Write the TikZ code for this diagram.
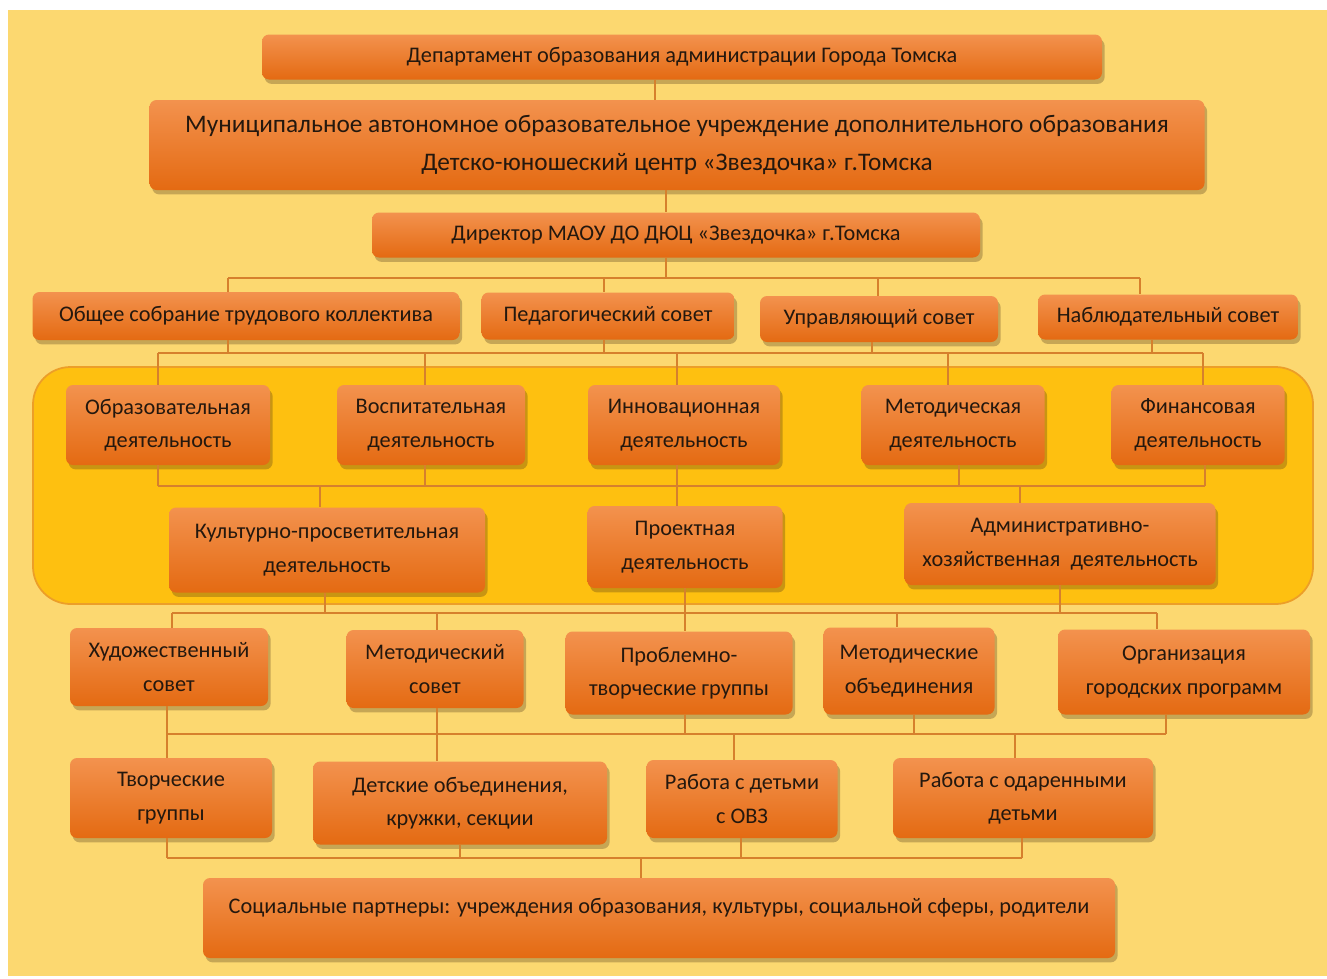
\documentclass[tikz,border=0pt]{standalone}
\usepackage{fontspec}
\setmainfont{Carlito}
\usepackage{xcolor}
\usetikzlibrary{shadows}
\definecolor{pagebg}{RGB}{252,216,112}
\definecolor{zonebg}{RGB}{254,192,16}
\definecolor{zoneline}{RGB}{236,158,40}
\definecolor{boxtop}{RGB}{243,146,78}
\definecolor{boxbot}{RGB}{228,106,18}
\definecolor{linkcol}{RGB}{214,128,45}
\definecolor{txt}{RGB}{36,24,14}
\tikzset{
    orgbox/.style={rounded corners=4pt, top color=boxtop, bottom color=boxbot, draw=none,
        text=txt, align=center, inner sep=2pt, font=\fontsize{12.7}{19}\selectfont,
        drop shadow={shadow xshift=1.5pt, shadow yshift=-2.5pt, opacity=0.3, fill=black!60!brown}},
    boxsize/.style 2 args={minimum width=#1*0.02cm, minimum height=#2*0.02cm},
    link/.style={draw=linkcol, line width=1.2pt}
}

\begin{document}
\begin{tikzpicture}[x=0.02cm, y=-0.02cm]
    \useasboundingbox (0, 0) rectangle (1327, 978);
    \fill[white] (0, 0) rectangle (1327, 978);
    \fill[pagebg] (8, 10) rectangle (1327, 976);

    \draw[zoneline, fill=zonebg, line width=1pt, rounded corners=0.75cm] (33, 367) rectangle (1313, 604);

    \node[orgbox, boxsize={840}{45}] (dep) at (682, 57) {Департамент образования администрации Города Томска};
    \node[orgbox, boxsize={1055}{90}, font=\fontsize{14.4}{22}\selectfont] (mun) at (677, 145)
        {Муниципальное автономное образовательное учреждение дополнительного образования\\Детско-юношеский центр «Звездочка» г.Томска};
    \node[orgbox, boxsize={608}{45}] (dir) at (676, 235) {Директор МАОУ ДО ДЮЦ «Звездочка» г.Томска};

    \node[orgbox, boxsize={427}{48}] (obs) at (246, 316) {Общее собрание трудового коллектива};
    \node[orgbox, boxsize={253}{47}] (ped) at (608, 316) {Педагогический совет};
    \node[orgbox, boxsize={238}{46}] (upr) at (879, 319) {Управляющий совет};
    \node[orgbox, boxsize={260}{45}] (nab) at (1168, 317) {Наблюдательный совет};

    \node[orgbox, boxsize={204}{80}] (obr) at (168, 425) {Образовательная\\деятельность};
    \node[orgbox, boxsize={188}{80}] (vos) at (431, 425) {Воспитательная\\деятельность};
    \node[orgbox, boxsize={192}{80}] (inn) at (684, 425) {Инновационная\\деятельность};
    \node[orgbox, boxsize={183}{80}] (met) at (953, 425) {Методическая\\деятельность};
    \node[orgbox, boxsize={173}{80}] (fin) at (1198, 425) {Финансовая\\деятельность};

    \node[orgbox, boxsize={316}{85}] (kul) at (327, 550) {Культурно-просветительная\\деятельность};
    \node[orgbox, boxsize={195}{82}] (pro) at (685, 547) {Проектная\\деятельность};
    \node[orgbox, boxsize={311}{82}] (adm) at (1060, 544) {Административно-\\хозяйственная\ \ деятельность};

    \node[orgbox, boxsize={198}{78}] (hud) at (169, 667) {Художественный\\совет};
    \node[orgbox, boxsize={177}{78}] (mso) at (435, 669) {Методический\\совет};
    \node[orgbox, boxsize={227}{83}] (prb) at (679, 673) {Проблемно-\\творческие группы};
    \node[orgbox, boxsize={171}{87}] (mob) at (909, 671) {Методические\\объединения};
    \node[orgbox, boxsize={252}{85}] (org) at (1184, 672) {Организация\\городских программ};

    \node[orgbox, boxsize={202}{80}] (tvo) at (171, 798) {Творческие\\группы};
    \node[orgbox, boxsize={294}{83}] (det) at (460, 803) {Детские объединения,\\кружки, секции};
    \node[orgbox, boxsize={191}{78}] (ovz) at (742, 799) {Работа с детьми\\с ОВЗ};
    \node[orgbox, boxsize={260}{80}] (oda) at (1023, 798) {Работа с одаренными\\детьми};

    \node[orgbox, boxsize={912}{80}, text depth=14pt] (soc) at (659, 918)
        {Социальные партнеры: учреждения образования, культуры, социальной сферы, родители};

    \coordinate (busA) at (0, 278);
    \coordinate (busB) at (0, 353);
    \coordinate (busC) at (0, 486);
    \coordinate (busD) at (0, 613);
    \coordinate (busE) at (0, 734);
    \coordinate (busF) at (0, 858);

    \draw[link]
        (655, 0 |- dep.south) -- (655, 0 |- mun.north)
        (666, 0 |- mun.south) -- (666, 0 |- dir.north)
        (666, 0 |- dir.south) -- (666, 0 |- busA)
        (228, 0 |- busA) -- (1140, 0 |- busA)
        (228, 0 |- busA) -- (228, 0 |- obs.north)
        (604, 0 |- busA) -- (604, 0 |- ped.north)
        (878, 0 |- busA) -- (878, 0 |- upr.north)
        (1140, 0 |- busA) -- (1140, 0 |- nab.north);

    \draw[link]
        (228, 0 |- obs.south) -- (228, 0 |- busB)
        (604, 0 |- ped.south) -- (604, 0 |- busB)
        (872, 0 |- upr.south) -- (872, 0 |- busB)
        (1152, 0 |- nab.south) -- (1152, 0 |- busB)
        (158, 0 |- busB) -- (1203, 0 |- busB)
        (158, 0 |- busB) -- (158, 0 |- obr.north)
        (425, 0 |- busB) -- (425, 0 |- vos.north)
        (677, 0 |- busB) -- (677, 0 |- inn.north)
        (948, 0 |- busB) -- (948, 0 |- met.north)
        (1203, 0 |- busB) -- (1203, 0 |- fin.north);

    \draw[link]
        (158, 0 |- obr.south) -- (158, 0 |- busC)
        (425, 0 |- vos.south) -- (425, 0 |- busC)
        (677, 0 |- inn.south) -- (677, 0 |- busC)
        (959, 0 |- met.south) -- (959, 0 |- busC)
        (1205, 0 |- fin.south) -- (1205, 0 |- busC)
        (158, 0 |- busC) -- (1205, 0 |- busC)
        (320, 0 |- busC) -- (320, 0 |- kul.north)
        (677, 0 |- busC) -- (677, 0 |- pro.north)
        (1020, 0 |- busC) -- (1020, 0 |- adm.north);

    \draw[link]
        (325, 0 |- kul.south) -- (325, 0 |- busD)
        (685, 0 |- pro.south) -- (685, 0 |- busD)
        (1060, 0 |- adm.south) -- (1060, 0 |- busD)
        (172, 0 |- busD) -- (1157, 0 |- busD)
        (172, 0 |- busD) -- (172, 0 |- hud.north)
        (437, 0 |- busD) -- (437, 0 |- mso.north)
        (685, 0 |- busD) -- (685, 0 |- prb.north)
        (897, 0 |- busD) -- (897, 0 |- mob.north)
        (1157, 0 |- busD) -- (1157, 0 |- org.north);

    \draw[link]
        (167, 0 |- hud.south) -- (167, 0 |- busE)
        (437, 0 |- mso.south) -- (437, 0 |- busE)
        (685, 0 |- prb.south) -- (685, 0 |- busE)
        (914, 0 |- mob.south) -- (914, 0 |- busE)
        (1166, 0 |- org.south) -- (1166, 0 |- busE)
        (167, 0 |- busE) -- (1166, 0 |- busE)
        (167, 0 |- busE) -- (167, 0 |- tvo.north)
        (437, 0 |- busE) -- (437, 0 |- det.north)
        (734, 0 |- busE) -- (734, 0 |- ovz.north)
        (1015, 0 |- busE) -- (1015, 0 |- oda.north);

    \draw[link]
        (167, 0 |- tvo.south) -- (167, 0 |- busF)
        (460, 0 |- det.south) -- (460, 0 |- busF)
        (741, 0 |- ovz.south) -- (741, 0 |- busF)
        (1022, 0 |- oda.south) -- (1022, 0 |- busF)
        (167, 0 |- busF) -- (1022, 0 |- busF)
        (641, 0 |- busF) -- (641, 0 |- soc.north);
\end{tikzpicture}
\end{document}
